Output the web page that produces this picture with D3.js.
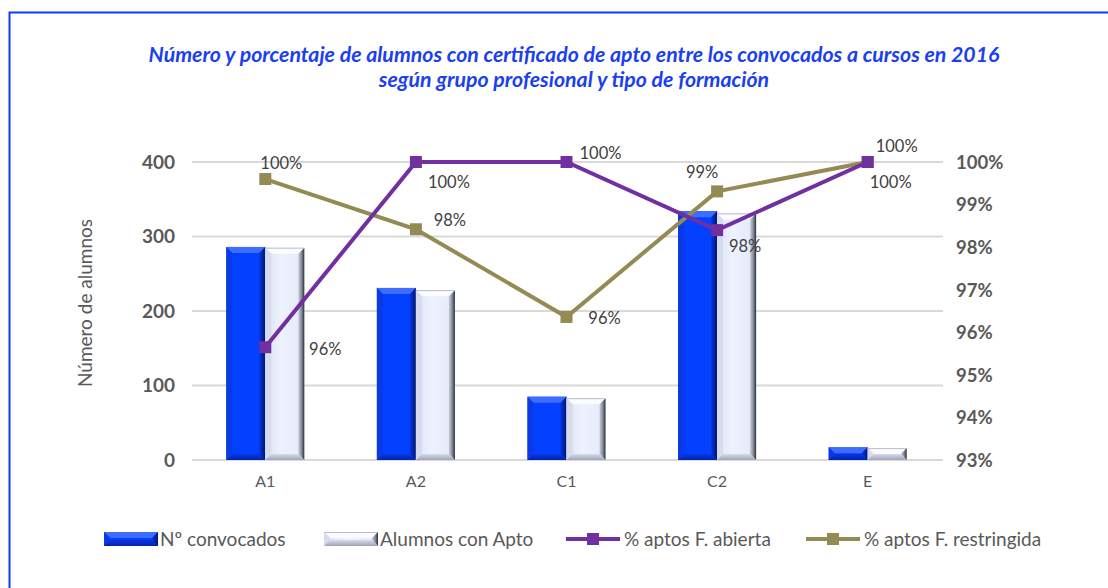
<!DOCTYPE html>
<html>
<head>
<meta charset="utf-8">
<script src="https://cdn.jsdelivr.net/npm/d3@7"></script>
<style>
  body { margin: 0; background: #fff; }
  svg text { font-family: Lato, "Open Sans", sans-serif; }
</style>
</head>
<body>
<script>
// data
var categories = ['A1', 'A2', 'C1', 'C2', 'E'];
var convocados = [286, 231, 85, 334, 17];
var conApto = [285, 228, 83, 331, 16];
var pctAbierta = [0.9565, 1.0, 1.0, 0.984, 1.0];
var pctRestringida = [0.996, 0.9842, 0.9636, 0.9931, 1.0];
var leftTicks = [0, 100, 200, 300, 400];
var rightTicks = [0.93, 0.94, 0.95, 0.96, 0.97, 0.98, 0.99, 1.0];

// where each data label sits relative to its marker
var labelAbierta = [[60, 2], [33, 20], [34, -9], [28, 16], [23, 20]];
var labelRestringida = [[16, -16], [34, -9], [38, 1], [-15, -19], [29, -16]];

var W = 1108, H = 588;
var grey = '#595959';
var purple = '#7030a0';
var olive = '#948a54';

var svg = d3.select('body').append('svg')
  .attr('width', W)
  .attr('height', H);

var defs = svg.append('defs');
var gradient = function(id, stops, vertical) {
  var g = defs.append('linearGradient').attr('id', id)
    .attr('x1', 0).attr('y1', 0)
    .attr('x2', vertical ? 0 : 1).attr('y2', vertical ? 1 : 0);
  stops.forEach(function(s) {
    g.append('stop').attr('offset', s[0]).attr('stop-color', s[1]);
  });
};
gradient('convRight', [[0, '#0836e0'], [1, '#001670']]);
gradient('convBottom', [[0, '#0638e8'], [1, '#0224a8']], true);
gradient('aptoRight', [[0, '#c9cedd'], [0.5, '#8c91a0'], [1, '#2c2f38']]);
gradient('aptoBottom', [[0, '#d6dbea'], [1, '#9ea4b8']], true);
gradient('aptoMain', [[0, '#dde3f4'], [0.4, '#eef2fe'], [1, '#e4e9f8']]);

// chart frame, runs off the right and bottom edges
svg.append('rect')
  .attr('x', 9.5).attr('y', 12.5)
  .attr('width', W + 20).attr('height', H + 20)
  .style('fill', '#fff')
  .style('stroke', '#0a3cff')
  .style('stroke-width', 2);

var title = svg.append('text')
  .attr('text-anchor', 'middle')
  .style('font-size', '21.3px')
  .style('font-weight', 'bold')
  .style('font-style', 'italic')
  .style('fill', '#1a40f0');
title.append('tspan').attr('x', 574).attr('y', 62)
  .text('Número y porcentaje de alumnos con certificado de apto entre los convocados a cursos en 2016');
title.append('tspan').attr('x', 574).attr('y', 87)
  .text('según grupo profesional y tipo de formación');

var x = d3.scaleBand().domain(categories).range([190, 943]);
var xs = d3.scaleBand().domain(['conv', 'apto'])
  .range([0, x.bandwidth()]).paddingInner(0).paddingOuter(0.93);
var y = d3.scaleLinear().domain([0, 400]).range([460, 162]);
var y2 = d3.scaleLinear().domain([0.93, 1.0]).range([460, 162]);

// gridlines
svg.append('g').selectAll('line')
  .data(leftTicks)
  .enter().append('line')
  .attr('x1', 192).attr('x2', 943)
  .attr('y1', function(d) { return y(d); })
  .attr('y2', function(d) { return y(d); })
  .style('stroke', '#d9d9d9')
  .style('stroke-width', 2);

// left axis
var leftAxis = svg.append('g')
  .attr('transform', 'translate(175,0)')
  .call(d3.axisLeft(y).tickValues(leftTicks).tickSize(0).tickPadding(0));
leftAxis.select('.domain').remove();
leftAxis.selectAll('text')
  .style('font-family', 'Lato, sans-serif')
  .style('font-size', '19px')
  .style('font-weight', 'bold')
  .style('fill', grey)
  .attr('dy', '0.34em');

// right axis
var rightAxis = svg.append('g')
  .attr('transform', 'translate(956,0)')
  .call(d3.axisRight(y2).tickValues(rightTicks).tickSize(0).tickPadding(0)
    .tickFormat(d3.format('.0%')));
rightAxis.select('.domain').remove();
rightAxis.selectAll('text')
  .style('font-family', 'Lato, sans-serif')
  .style('font-size', '18.5px')
  .style('font-weight', 'bold')
  .style('fill', grey)
  .attr('dy', '0.34em');

// bottom axis labels
var bottomAxis = svg.append('g')
  .attr('transform', 'translate(0,476)')
  .call(d3.axisBottom(x).tickSize(0).tickPadding(0));
bottomAxis.select('.domain').remove();
bottomAxis.selectAll('text')
  .style('font-family', 'Lato, sans-serif')
  .style('font-size', '16px')
  .style('fill', grey);

svg.append('text')
  .attr('transform', 'translate(92,303) rotate(-90)')
  .attr('text-anchor', 'middle')
  .style('font-size', '19px')
  .style('fill', grey)
  .text('Número de alumnos');

// bevelled bar, like the office "angle" bevel
var bevelColors = {
  conv: { main: '#0440ff', top: '#3f6dff', left: '#0a3ae6', right: 'url(#convRight)', bottom: 'url(#convBottom)', edge: null },
  apto: { main: 'url(#aptoMain)', top: '#fbfcff', left: '#d6dcee', right: 'url(#aptoRight)', bottom: 'url(#aptoBottom)', edge: '#b8bccb' }
};

var drawBevel = function(g, x0, y0, w, h, c) {
  var b = Math.min(6, h / 2, w / 2);
  var x1 = x0 + w, y1 = y0 + h;
  g.append('rect').attr('x', x0).attr('y', y0).attr('width', w).attr('height', h)
    .style('fill', c.main);
  var poly = function(pts, fill) {
    g.append('polygon')
      .attr('points', pts.map(function(p) { return p.join(','); }).join(' '))
      .style('fill', fill);
  };
  poly([[x0, y0], [x1, y0], [x1 - b, y0 + b], [x0 + b, y0 + b]], c.top);
  poly([[x0, y0], [x0 + b, y0 + b], [x0 + b, y1 - b], [x0, y1]], c.left);
  poly([[x1, y0], [x1, y1], [x1 - b, y1 - b], [x1 - b, y0 + b]], c.right);
  poly([[x0, y1], [x0 + b, y1 - b], [x1 - b, y1 - b], [x1, y1]], c.bottom);
  if (c.edge) {
    g.append('line').attr('x1', x0).attr('x2', x1 - 1)
      .attr('y1', y0 + 0.5).attr('y2', y0 + 0.5)
      .style('stroke', c.edge).style('stroke-width', 1);
  }
};

var bars = svg.append('g');
categories.forEach(function(cat, i) {
  drawBevel(bars, x(cat) + xs('conv'), y(convocados[i]), xs.bandwidth(),
    y(0) - y(convocados[i]), bevelColors.conv);
  drawBevel(bars, x(cat) + xs('apto'), y(conApto[i]), xs.bandwidth(),
    y(0) - y(conApto[i]), bevelColors.apto);
});

// lines
var cx = function(d, i) { return x(categories[i]) + x.bandwidth() / 2; };

var drawLine = function(values, color, offsets) {
  var line = d3.line()
    .x(function(d, i) { return cx(d, i); })
    .y(function(d) { return y2(d); });
  svg.append('path')
    .datum(values)
    .attr('d', line)
    .style('fill', 'none')
    .style('stroke', color)
    .style('stroke-width', 4);
  svg.append('g').selectAll('rect')
    .data(values)
    .enter().append('rect')
    .attr('x', function(d, i) { return cx(d, i) - 6; })
    .attr('y', function(d) { return y2(d) - 6; })
    .attr('width', 12).attr('height', 12)
    .style('fill', color);
  svg.append('g').selectAll('text')
    .data(values)
    .enter().append('text')
    .attr('x', function(d, i) { return cx(d, i) + offsets[i][0]; })
    .attr('y', function(d, i) { return y2(d) + offsets[i][1]; })
    .attr('dy', '0.35em')
    .attr('text-anchor', 'middle')
    .style('font-size', '16.5px')
    .style('fill', '#404040')
    .text(function(d) { return d3.format('.0%')(d); });
};

drawLine(pctRestringida, olive, labelRestringida);
drawLine(pctAbierta, purple, labelAbierta);

// legend
var legend = svg.append('g').attr('transform', 'translate(0,539)');
drawBevel(legend, 104, -7, 54, 14, bevelColors.conv);
legend.append('text').attr('x', 160).attr('y', 0).attr('dy', '0.35em')
  .style('font-size', '19px').style('fill', grey).text('Nº convocados');
drawBevel(legend, 324, -7, 54, 14, bevelColors.apto);
legend.append('text').attr('x', 380).attr('y', 0).attr('dy', '0.35em')
  .style('font-size', '19px').style('fill', grey).text('Alumnos con Apto');

var lineKey = function(x0, color, label) {
  legend.append('line').attr('x1', x0).attr('x2', x0 + 54)
    .style('stroke', color).style('stroke-width', 4);
  legend.append('rect').attr('x', x0 + 21).attr('y', -6).attr('width', 12).attr('height', 12)
    .style('fill', color);
  legend.append('text').attr('x', x0 + 58).attr('y', 0).attr('dy', '0.35em')
    .style('font-size', '19px').style('fill', grey).text(label);
};
lineKey(566, purple, '% aptos F. abierta');
lineKey(806, olive, '% aptos F. restringida');
</script>
</body>
</html>
